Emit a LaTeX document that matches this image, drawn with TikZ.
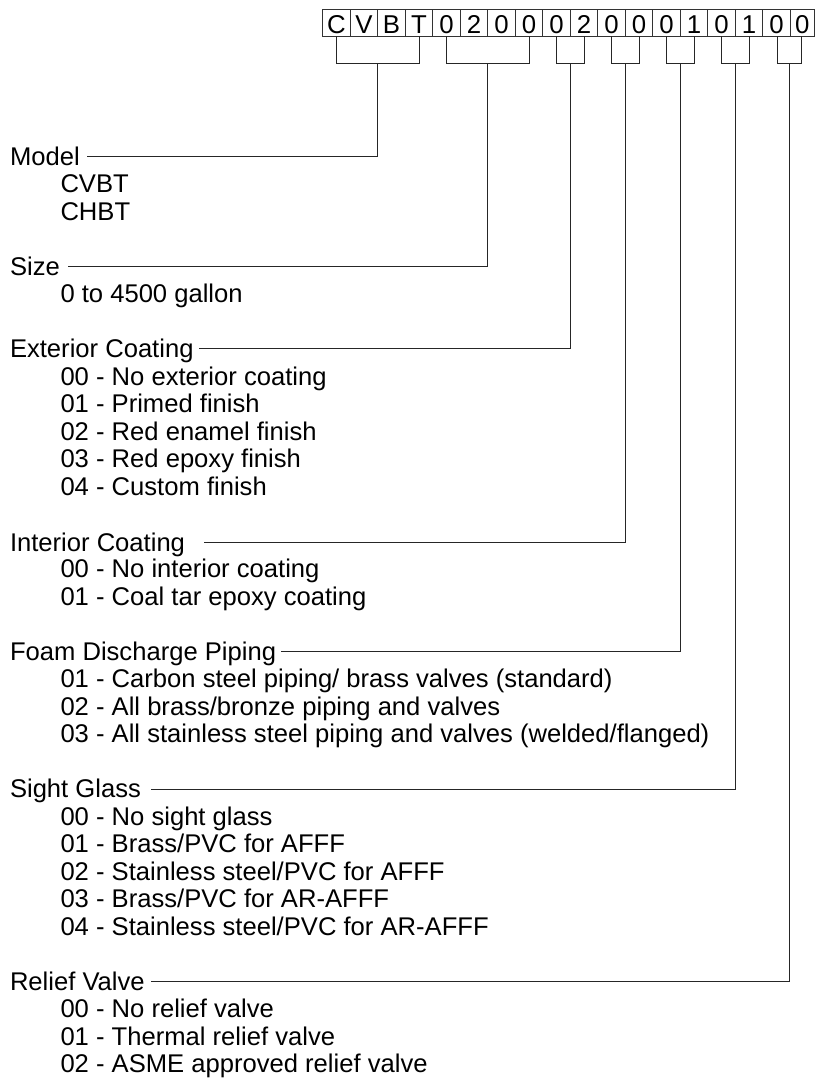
\documentclass[tikz,border=0pt]{standalone}
\usepackage{fontspec}
\setmainfont{Liberation Sans}
\usetikzlibrary{calc}
\begin{document}
\begin{tikzpicture}[x=1bp,y=-1bp,
  txt/.style={inner sep=0pt, outer sep=0pt, anchor=base west, font=\fontsize{25.6bp}{27.5bp}\selectfont},
  cell/.style={draw=black!80, line width=0.9bp, inner sep=0pt, outer sep=0pt, minimum width=27.5bp, minimum height=26.7bp, text height=21.3bp, text depth=0pt, anchor=north west, font=\fontsize{25.8bp}{27.5bp}\selectfont},
  conn/.style={draw=black!85, line width=0.9bp}]
\useasboundingbox (0,0) rectangle (815,1078);
\begin{scope}
\clip (0,0) rectangle (815,1078);
\foreach \c [count=\i from 0] in {C,V,B,T,0,2,0,0,0,2,0,0,0,1,0,1,0} {
  \node[cell] (b\i) at ({322.7+27.5*\i},9.3) {\c};
}
\node[cell, minimum width=24.4bp] (b17) at (790.2,9.3) {0};
\end{scope}

% brackets
\draw[conn] (b0.south) -- ++(0,27.3) -| (b3.south);
\draw[conn] (b4.south) -- ++(0,27.3) -| (b7.south);
\draw[conn] (b8.south) -- ++(0,27.3) -| (b9.south);
\draw[conn] (b10.south) -- ++(0,27.3) -| (b11.south);
\draw[conn] (b12.south) -- ++(0,27.3) -| (b13.south);
\draw[conn] (b14.south) -- ++(0,27.3) -| (b15.south);
\draw[conn] ([xshift=1.4bp]b16.south) -- ++(0,27.3) -| ([xshift=-1.4bp]b17.south);
\coordinate (g1) at ($(b0.south)!0.5!(b3.south)+(0,27.3)$);
\coordinate (g2) at ($(b4.south)!0.5!(b7.south)+(0,27.3)$);
\coordinate (g3) at ($(b8.south)!0.5!(b9.south)+(0,27.3)$);
\coordinate (g4) at ($(b10.south)!0.5!(b11.south)+(0,27.3)$);
\coordinate (g5) at ($(b12.south)!0.5!(b13.south)+(0,27.3)$);
\coordinate (g6) at ($(b14.south)!0.5!(b15.south)+(0,27.3)$);
\coordinate (g7) at ($(b16.south)!0.5!(b17.south)+(0,27.3)$);

% Model
\node[txt] (hm) at (10,165) {Model};
\node[txt] (m1) at (60.5,192.5) {CVBT};
\node[txt] (m2) at (60.5,220) {CHBT};
% Size
\node[txt] (hs) at (10,275) {Size};
\node[txt] (s1) at (60.5,302.5) {0 to 4500 gallon};
% Exterior
\node[txt] (he) at (10,357.5) {Exterior Coating};
\node[txt] (e1) at (60.5,385) {00 - No exterior coating};
\node[txt] (e2) at (60.5,412.5) {01 - Primed finish};
\node[txt] (e3) at (60.5,440) {02 - Red enamel finish};
\node[txt] (e4) at (60.5,467.5) {03 - Red epoxy finish};
\node[txt] (e5) at (60.5,495) {04 - Custom finish};
% Interior
\node[txt] (hi) at (10,551) {Interior Coating};
\node[txt] (n1) at (60.5,577.5) {00 - No interior coating};
\node[txt] (n2) at (60.5,605) {01 - Coal tar epoxy coating};
% Foam
\node[txt] (hf) at (10,660) {Foam Discharge Piping};
\node[txt] (f1) at (60.5,687.5) {01 - Carbon steel piping/ brass valves (standard)};
\node[txt] (f2) at (60.5,715) {02 - All brass/bronze piping and valves};
\node[txt] (f3) at (60.5,742.5) {03 - All stainless steel piping and valves (welded/flanged)};
% Sight glass
\node[txt] (hg) at (10,797.5) {Sight Glass};
\node[txt] (q1) at (60.5,825) {00 - No sight glass};
\node[txt] (q2) at (60.5,852.5) {01 - Brass/PVC for AFFF};
\node[txt] (q3) at (60.5,880) {02 - Stainless steel/PVC for AFFF};
\node[txt] (q4) at (60.5,907.5) {03 - Brass/PVC for AR-AFFF};
\node[txt] (q5) at (60.5,935) {04 - Stainless steel/PVC for AR-AFFF};
% Relief valve
\node[txt] (hr) at (10,990) {Relief Valve};
\node[txt] (r1) at (60.5,1017.5) {00 - No relief valve};
\node[txt] (r2) at (60.5,1045) {01 - Thermal relief valve};
\node[txt] (r3) at (60.5,1072.5) {02 - ASME approved relief valve};

% leader lines
\draw[conn] (g1) |- ([shift={(7,-9)}]hm.base east);
\draw[conn] (g2) |- ([shift={(8,-9)}]hs.base east);
\draw[conn] (g3) |- ([shift={(5,-9)}]he.base east);
\draw[conn] (g4) |- ([shift={(19,-9)}]hi.base east);
\draw[conn] (g5) |- ([shift={(5,-9)}]hf.base east);
\draw[conn] (g6) |- ([shift={(10,-8)}]hg.base east);
\draw[conn] (g7) |- ([shift={(6,-9)}]hr.base east);
\end{tikzpicture}
\end{document}
